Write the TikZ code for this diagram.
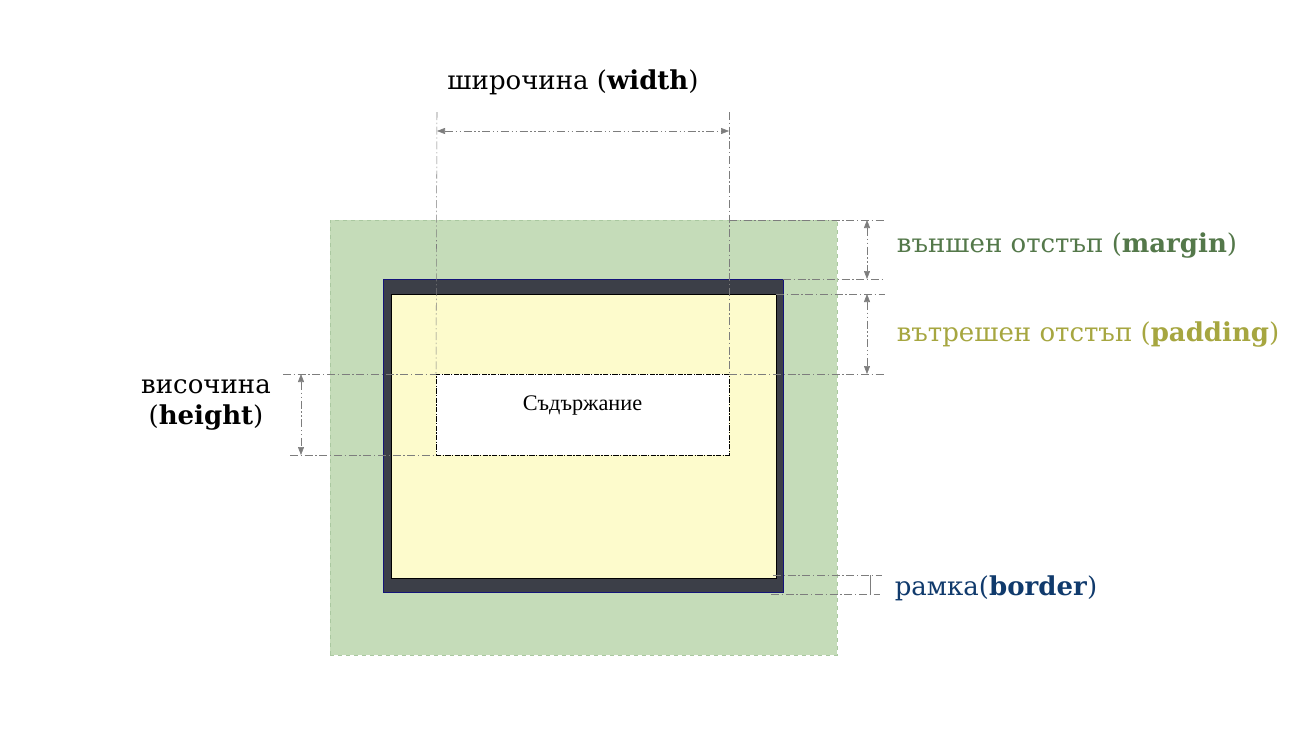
\documentclass[tikz,border=0pt]{standalone}
\usepackage{fontspec}
\setmainfont{DejaVu Serif}
\newfontfamily\contentfont{Liberation Serif}
\usepackage{xcolor}
\usetikzlibrary{arrows.meta,positioning,fit}
\definecolor{margingreen}{RGB}{197,220,185}
\definecolor{marginedge}{RGB}{170,200,160}
\definecolor{margintext}{RGB}{84,120,74}
\definecolor{borderdark}{RGB}{60,63,72}
\definecolor{bordernavy}{RGB}{20,20,120}
\definecolor{bordertext}{RGB}{16,58,108}
\definecolor{paddingyellow}{RGB}{253,251,204}
\definecolor{paddingtext}{RGB}{166,166,64}
\definecolor{dimgray}{RGB}{125,125,125}

\begin{document}
\begin{tikzpicture}[x=0.75pt,y=-0.75pt,>={Triangle[length=6pt,width=4.5pt]}]
  \tikzstyle{box}=[inner sep=0pt,outer sep=0pt]
  \tikzstyle{dimline}=[dimgray,thin,dash pattern=on 6pt off 2pt on 1pt off 2pt]
  \tikzstyle{dimarrow}=[<->,dimgray,thin,dash pattern=on 6pt off 2pt on 1pt off 2pt on 1pt off 2pt]
  \tikzstyle{lbl}=[font=\fontsize{19.5}{23}\selectfont,inner sep=0pt]
  \useasboundingbox (0,0) rectangle (1314,743);

  % boxes
  \node[box,fit={(330,220) (837,655)},fill=margingreen,draw=marginedge,dashed] (margin) {};
  \node[box,fit={(383,279) (783,592)},fill=borderdark,draw=bordernavy] (border) {};
  \node[box,fit={(391,294) (776,578)},fill=paddingyellow,draw=black] (padding) {};
  \node[box,fit={(436,374) (729,455)},fill=white,draw=black,thin,dash pattern=on 4pt off 1pt on 1pt off 1pt] (content) {};
  \node[font=\contentfont\fontsize{16.7}{20}\selectfont,below=13pt of content.north] (contenttext) {Съдържание};

  % width
  \coordinate (wl) at (437,112);
  \coordinate (wr) at (729,112);
  \draw[dimline] (wl) -- (content.north west);
  \draw[dimline] (wr) -- (content.north east);
  \draw[dimarrow] (437,131) -- (729,131);
  \node[lbl] (widthlbl) at (573,82) {широчина (\textbf{width})};

  % height
  \coordinate (ht) at (283,374);
  \coordinate (hb) at (290,455);
  \draw[dimline] (ht) -- (content.north west);
  \draw[dimline] (hb) -- (content.south west);
  \draw[dimarrow] (301,374) -- (301,455);
  \node[lbl,align=center] (heightlbl) at (206,405) {височина\\(\textbf{height})};

  % margin
  \coordinate (mt) at (885,220);
  \coordinate (mb) at (885,279);
  \draw[dimline] (729,220) -- (mt);
  \draw[dimline] (border.north east) -- (mb);
  \draw[dimarrow] (867,220) -- (867,279);
  \node[lbl,text=margintext] (marginlbl) at (1067,246) {външен отстъп (\textbf{margin})};

  % padding
  \coordinate (pt) at (885,294);
  \coordinate (pb) at (885,374);
  \draw[dimline] (padding.north east) -- (pt);
  \draw[dimline] (content.north east) -- (pb);
  \draw[dimarrow] (867,294) -- (867,374);
  \node[lbl,text=paddingtext] (paddinglbl) at (1088,335) {вътрешен отстъп (\textbf{padding})};

  % border
  \coordinate (bt) at (882,575);
  \coordinate (bb) at (880,594);
  \draw[dimline] (773,575) -- (bt);
  \draw[dimline] (771,594) -- (bb);
  \draw[dimgray,thin] (870,575) -- (870,594);
  \node[lbl,text=bordertext] (borderlbl) at (996,588) {рамка(\textbf{border})};
\end{tikzpicture}
\end{document}
